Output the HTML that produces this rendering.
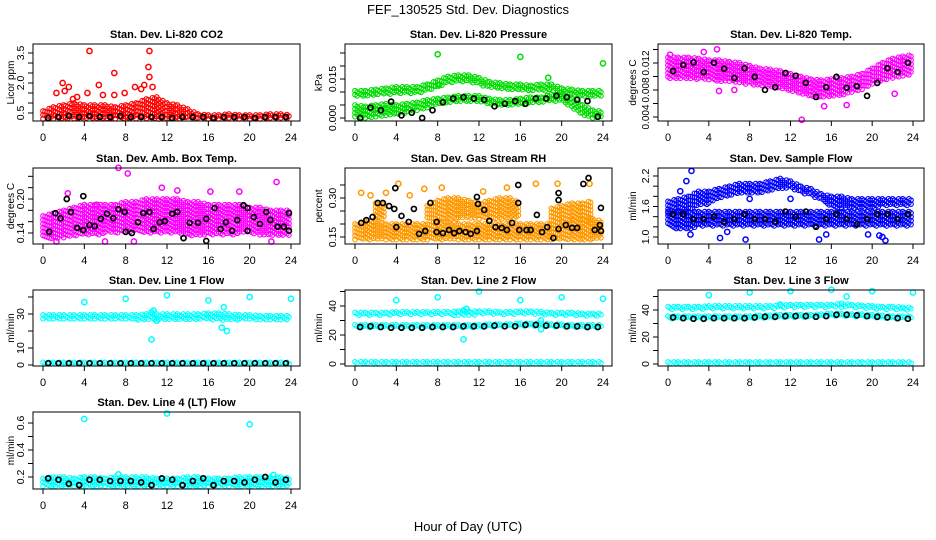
<!DOCTYPE html>
<html><head><meta charset="utf-8"><style>
html,body{margin:0;padding:0;background:#fff;}
svg{display:block;font-family:"Liberation Sans",sans-serif;}
</style></head><body>
<svg id="chart" width="936" height="540" viewBox="0 0 936 540">
<rect x="0" y="0" width="936" height="540" fill="#fff"/>
<text x="468" y="14" font-size="13" text-anchor="middle">FEF_130525  Std. Dev. Diagnostics</text>
<text x="468" y="531" font-size="13" text-anchor="middle">Hour of Day (UTC)</text>
</svg>
<script>
// ---------- data ----------
const hours = [0,1,2,3,4,5,6,7,8,9,10,11,12,13,14,15,16,17,18,19,20,21,22,23,24];
const blackHours = [0.5,1.5,2.5,3.5,4.5,5.5,6.5,7.5,8.5,9.5,10.5,11.5,12.5,13.5,14.5,15.5,16.5,17.5,18.5,19.5,20.5,21.5,22.5,23.5];

const co2Lo = [0.2,0.2,0.2,0.2,0.2,0.2,0.2,0.2,0.2,0.2,0.2,0.2,0.2,0.2,0.2,0.2,0.2,0.2,0.2,0.2,0.2,0.2,0.2,0.2,0.2];
const co2Hi = [0.6,0.8,0.9,1.0,0.9,0.9,0.9,0.8,0.9,1.0,1.2,1.3,1.0,0.9,0.7,0.45,0.4,0.4,0.45,0.4,0.4,0.4,0.45,0.45,0.4];
const co2Out = [[4.5,3.6],[10.3,3.6],[1.9,2.0],[6.9,2.5],[10.2,2.8],[10.3,2.3],[2.5,1.8],[8.9,1.8],[9.8,1.9],[1.3,1.5],[4.3,1.5],[5.4,1.9],[9.5,1.7],[10.6,1.8],[2.1,1.6],[7.9,1.5],[2.9,1.2],[5.8,1.4],[3.3,1.3],[6.9,1.4]];
const co2Black = [0.25,0.3,0.35,0.3,0.35,0.3,0.3,0.35,0.3,0.3,0.3,0.3,0.25,0.3,0.3,0.3,0.25,0.3,0.3,0.3,0.25,0.3,0.3,0.3];

const presALo = [0.0085,0.0085,0.009,0.009,0.0095,0.0095,0.0095,0.0105,0.012,0.0135,0.014,0.014,0.013,0.0115,0.0115,0.011,0.0105,0.0105,0.0105,0.0105,0.0095,0.0085,0.0085,0.0085,0.0085];
const presAHi = [0.0105,0.0105,0.011,0.0115,0.012,0.012,0.012,0.013,0.0145,0.016,0.0165,0.0165,0.0155,0.014,0.0135,0.013,0.013,0.0125,0.013,0.013,0.0115,0.011,0.0105,0.0105,0.0105];
const presBLo = [0.0,0.0,0.0005,0.001,0.001,0.002,0.003,0.004,0.005,0.006,0.0065,0.0065,0.006,0.0055,0.005,0.005,0.005,0.0055,0.006,0.0065,0.0065,0.004,0.001,0.0,0.0];
const presBHi = [0.005,0.0045,0.005,0.0055,0.005,0.0055,0.006,0.007,0.0075,0.008,0.0085,0.0085,0.0085,0.0075,0.007,0.007,0.0075,0.008,0.008,0.009,0.009,0.0075,0.005,0.003,0.0025];
const presOut = [[8,0.0245],[16,0.0235],[24,0.021],[8.1,0.0125],[18.7,0.0155]];
const presBlack = [0.0,0.004,0.003,0.0063,0.001,0.002,0.0,0.003,0.006,0.0075,0.008,0.0075,0.007,0.0045,0.0055,0.0065,0.0055,0.0075,0.0075,0.0085,0.008,0.007,0.0065,0.0005];

const tempLo = [0.0096,0.0096,0.0096,0.0096,0.00946,0.00922,0.00922,0.00898,0.00882,0.00865,0.00841,0.00817,0.00785,0.00737,0.00705,0.00697,0.00705,0.00721,0.00761,0.00801,0.00882,0.00946,0.00978,0.01002,0.01026];
const tempHi = [0.01283,0.01283,0.01283,0.01267,0.01243,0.01243,0.01219,0.01203,0.01162,0.01122,0.01106,0.01082,0.01042,0.01002,0.00962,0.00946,0.00962,0.00978,0.01002,0.01042,0.01122,0.01203,0.01267,0.01299,0.01323];
const tempOut = [[13.1,0.0036],[4.8,0.01403],[3.5,0.01363],[0.2,0.01323],[15.3,0.0056],[17.5,0.00577],[5,0.00785],[22.2,0.00745],[6.5,0.00801]];
const tempBlack = [0.01082,0.0117,0.0121,0.01066,0.01203,0.01115,0.00978,0.01122,0.00994,0.00801,0.00841,0.0105,0.0101,0.00906,0.00697,0.00841,0.00994,0.00833,0.00857,0.00713,0.00906,0.01122,0.01066,0.01203];

const ambLo = [0.13,0.13,0.13,0.135,0.135,0.135,0.14,0.14,0.14,0.14,0.14,0.14,0.14,0.14,0.135,0.135,0.135,0.135,0.135,0.14,0.14,0.135,0.135,0.135,0.135];
const ambHi = [0.17,0.175,0.18,0.185,0.19,0.19,0.19,0.19,0.195,0.195,0.2,0.2,0.2,0.2,0.195,0.195,0.19,0.19,0.19,0.19,0.185,0.185,0.18,0.18,0.18];
const ambOut = [[7.3,0.255],[8.2,0.245],[11.5,0.22],[13,0.215],[16.2,0.213],[19,0.213],[22.6,0.23],[2.4,0.21],[5.2,0.19],[6,0.125],[8.8,0.125],[22.1,0.125],[1.3,0.125]];
const ambBlackH = [0.6,1.2,1.7,2.3,2.7,3.3,3.9,3.9,4.5,5.0,5.6,6.2,6.8,7.3,7.9,8.0,8.6,9.2,9.7,10.3,10.7,11.3,11.8,12.5,13.0,13.6,14.2,15.0,15.8,15.8,16.6,17.2,17.7,18.3,18.8,19.4,19.8,19.8,20.4,21.0,21.6,22.0,22.7,23.3,23.8,23.8];
const ambBlackV = [0.142,0.175,0.166,0.200,0.177,0.149,0.205,0.145,0.154,0.152,0.165,0.174,0.166,0.182,0.177,0.142,0.140,0.159,0.175,0.177,0.147,0.159,0.161,0.174,0.177,0.131,0.158,0.158,0.126,0.165,0.184,0.147,0.159,0.144,0.163,0.189,0.184,0.144,0.168,0.156,0.177,0.163,0.151,0.151,0.144,0.175];

const rhLo = [0.14,0.14,0.14,0.14,0.14,0.14,0.14,0.14,0.14,0.14,0.14,0.14,0.14,0.14,0.14,0.14,0.14,0.14,0.14,0.14,0.14,0.14,0.14,0.14,0.14];
const rhHi = [0.2,0.21,0.21,0.2,0.2,0.2,0.2,0.2,0.21,0.21,0.2,0.2,0.2,0.2,0.2,0.2,0.2,0.2,0.2,0.2,0.21,0.22,0.22,0.22,0.21];
const rh2Lo = [null,null,0.22,0.22,null,null,null,0.22,0.22,0.22,0.22,0.22,0.22,0.22,0.22,0.22,0.22,null,null,0.21,0.21,0.21,0.21,0.21,null];
const rh2Hi = [null,null,0.28,0.28,null,null,null,0.27,0.29,0.3,0.3,0.29,0.28,0.29,0.3,0.3,0.28,null,null,0.26,0.27,0.28,0.28,0.29,null];
const rhOut = [[4.2,0.355],[17.5,0.355],[22.7,0.355],[19.6,0.355],[0.6,0.32],[8.4,0.34],[14.7,0.34],[6.7,0.335],[12.4,0.325],[1.5,0.31],[5.3,0.31],[3,0.32]];
const rhBlackH = [0.6,1.1,1.7,2.2,2.7,3.3,3.8,3.9,4.0,4.5,5.2,5.7,6.2,6.8,7.3,7.9,7.9,8.5,9.1,9.6,10.1,10.7,11.2,11.8,11.8,11.9,12.5,13.0,13.6,14.2,14.7,15.2,15.8,15.8,15.9,16.6,17.0,17.6,18.1,18.6,19.2,19.7,19.7,19.7,20.4,21.0,21.5,22.1,22.6,23.2,23.7,23.8,23.8];
const rhBlackV = [0.204,0.215,0.227,0.281,0.281,0.269,0.258,0.338,0.188,0.231,0.208,0.258,0.162,0.173,0.281,0.208,0.169,0.165,0.177,0.165,0.173,0.169,0.162,0.173,0.304,0.277,0.254,0.212,0.188,0.185,0.177,0.204,0.281,0.35,0.177,0.177,0.177,0.235,0.169,0.188,0.146,0.319,0.292,0.181,0.196,0.185,0.185,0.354,0.377,0.177,0.196,0.262,0.173];

const sfLo = [1.2,1.15,1.15,1.2,1.2,1.2,1.2,1.2,1.2,1.2,1.2,1.2,1.2,1.2,1.2,1.2,1.2,1.2,1.2,1.2,1.2,1.2,1.2,1.2,1.2];
const sfHi = [1.5,1.5,1.5,1.5,1.5,1.5,1.5,1.5,1.5,1.5,1.5,1.5,1.5,1.5,1.5,1.5,1.5,1.5,1.5,1.5,1.5,1.5,1.5,1.5,1.5];
const sf2Lo = [1.45,1.45,1.5,1.6,1.65,1.75,1.8,1.85,1.85,1.85,1.9,1.95,1.95,1.85,1.8,1.7,1.6,1.55,1.55,1.55,1.55,1.6,1.6,1.6,1.6];
const sf2Hi = [1.7,1.75,1.8,1.9,1.9,1.95,2.0,2.05,2.05,2.05,2.1,2.15,2.1,2.0,1.95,1.85,1.8,1.8,1.75,1.75,1.75,1.75,1.75,1.75,1.75];
const sfOut = [[2.3,2.3],[1.8,2.1],[7.6,0.95],[14.8,0.95],[21.3,0.93],[5.1,0.98],[2.2,1.05],[19.6,1.05],[15.5,1.05],[5.8,1.1],[20.7,1.03],[21,1.0],[1.2,1.9],[12,1.75],[8,1.75]];
const sfBlack = [1.45,1.45,1.35,1.35,1.4,1.3,1.35,1.45,1.35,1.35,1.3,1.5,1.4,1.5,1.2,1.35,1.45,1.35,1.25,1.35,1.45,1.45,1.35,1.45];

const l1Lo = [26.5,26.5,26.5,26.5,26.5,26.5,26.5,26.5,26.5,26.5,26.5,26.5,26.5,26.5,26.5,26.5,26.5,26,26,26.5,26.5,26,26,26,26];
const l1Hi = [29.5,29.5,29.5,29.5,29.5,29.5,29.5,29.5,29.5,29.5,30,30,30,30,30,30,30.5,30.5,30,29.5,29.5,29,29,29,29];
const l1BotLo = [0,0,0,0,0,0,0,0,0,0,0,0,0,0,0,0,0,0,0,0,0,0,0,0,0];
const l1BotHi = [1.5,1.5,1.5,1.5,1.5,1.5,1.5,1.5,1.5,1.5,1.5,1.5,1.5,1.5,1.5,1.5,1.5,1.5,1.5,1.5,1.5,1.5,1.5,1.5,1.5];
const l1Out = [[4,37],[8,39],[12,41],[16,38],[20,40],[24,39],[10.5,15],[10.5,31],[10.7,32],[17.5,34],[17.3,22],[17.8,20],[11,26]];
const l1Black = [1,1,1,1,1,1,1,1,1,1,1,1,1,1,1,1,1,1,1,1,1,1,1,1];

const l2Lo = [33,33,33,33,33.5,33.5,33.5,33.5,33.5,33.5,33.5,33.5,34,34,34,34,34,34,33.5,33.5,33,33,33,32.5,32.5];
const l2Hi = [35.5,35.5,35.5,35.5,36,36,36,36,36,36,36.5,36.5,36.5,36.5,36,36,36.5,36.5,36,35.5,35.5,35.5,35,35,35];
const l2MidLo = [25,25,25,25,25,25,25,25,25,25,25,25,25,25.5,25.5,25.5,26,26,26,25.5,25.5,25,25,25,25];
const l2MidHi = [27,27,27,27,27,27,27,27,27,27,27,27,27,27.5,27.5,27.5,28,28,28,27.5,27.5,27,27,27,27];
const l2Out = [[4,44],[8,46],[12,50],[16,44],[20,46],[24,45],[10.5,17],[10.5,37],[10.8,38],[18,24],[18,30]];
const l2Black = [25.5,26,25.5,25,25,25,25,25.5,25.5,25.5,26,26,26,26.5,26,26,27,27,26.5,26.5,26,26,25.5,25.5];

const l3Lo = [40,40,40,40,40.5,40.5,40.5,40.5,40.5,40.5,40.5,41,41.5,41.5,41.5,41.5,41.5,42,41.5,41,40.5,40,40,39.5,39.5];
const l3Hi = [42.5,42.5,42.5,42.5,43,43,43,43,43,43,43,43.5,44,44,44,44,44,45,44,43.5,43,42.5,42.5,42,42];
const l3MidLo = [33,33,33,33,33,33,33,33,33,33.5,33.5,34,34,34,34,34.5,35,35,34.5,34.5,34,33.5,33,33,33];
const l3MidHi = [35.5,35.5,35.5,35.5,35.5,35.5,35.5,35.5,35.5,36,36,36.5,36.5,36.5,36.5,37,37.5,37.5,37,37,36.5,36,35.5,35.5,35.5];
const l3Out = [[4,51],[8,53],[12,54],[16,55],[20,54],[24,53],[17.5,50],[11,44]];
const l3Black = [34.5,34,33.5,33.5,34,34,34,34,34.5,35,35,35.5,35.5,35.5,35,35.5,36.5,36.5,36,35.5,35,34.5,34,33.5];

const l4Lo = [0.13,0.13,0.13,0.13,0.13,0.13,0.13,0.13,0.13,0.13,0.13,0.13,0.13,0.13,0.13,0.13,0.13,0.13,0.13,0.13,0.13,0.13,0.13,0.13,0.13];
const l4Hi = [0.19,0.2,0.2,0.19,0.2,0.2,0.19,0.2,0.2,0.2,0.2,0.19,0.19,0.19,0.2,0.2,0.19,0.19,0.19,0.2,0.2,0.2,0.2,0.2,0.19];
const l4Out = [[4,0.63],[12,0.67],[20,0.59],[7.3,0.22],[22.3,0.215]];
const l4Black = [0.19,0.18,0.15,0.14,0.18,0.18,0.17,0.17,0.17,0.16,0.14,0.19,0.18,0.14,0.17,0.19,0.14,0.17,0.17,0.16,0.18,0.2,0.16,0.18];

// ---------- layout ----------
const NS = "http://www.w3.org/2000/svg";
const svg = document.getElementById("chart");
const COLS = [{bx0:33,bx1:300,p0:43,p24:291,ylabX:11},{bx0:345,bx1:612,p0:355,p24:603,ylabX:319},{bx0:658,bx1:924,p0:668,p24:913,ylabX:633}];
const ROWS = [{by0:44,by1:121},{by0:168,by1:244},{by0:290,by1:366},{by0:412,by1:489}];

function mk(tag, attrs, parent){
  const e = document.createElementNS(NS, tag);
  for (const k in attrs) e.setAttribute(k, attrs[k]);
  (parent||svg).appendChild(e);
  return e;
}

function drawPanel(cfg){
  const c = COLS[cfg.col], r = ROWS[cfg.row];
  const g = mk("g", {});
  
  
  const xs = h => c.p0 + (c.p24 - c.p0) * h / 24;
  const [v1,p1,v2,p2] = cfg.ymap;
  const ys = v => p1 + (v - v1) * (p2 - p1) / (v2 - v1);
  const bandG = mk("g", {fill:"none", stroke:cfg.color, "stroke-width":"1.1"}, g);
  
  
  cfg.bands.forEach(([lo, hi]) => {
    for (let i = 0; i < hours.length - 1; i++) {
      if (lo[i] == null || hi[i] == null || lo[i+1] == null || hi[i+1] == null) continue;
      let k = 0;
      for (let h = hours[i]; h < hours[i+1] - 1e-9; h += 0.2, k++) {
        const t = (h - hours[i]) / (hours[i+1] - hours[i]);
        const l = lo[i] + (lo[i+1] - lo[i]) * t, u = hi[i] + (hi[i+1] - hi[i]) * t;
        const yl = ys(l), yu = ys(u);
        const top = Math.min(yl, yu), bot = Math.max(yl, yu);
        for (let y = top + (k % 3) * 1.3; y <= bot + 0.01; y += 3.9) {
          const pt = mk("circle", {cx:xs(h).toFixed(1), cy:y.toFixed(1), r:"2.3"}, bandG);
          
          
        }
      }
    }
  });
  cfg.outliers.forEach(([h, v]) => {
    const pt = mk("circle", {cx:xs(h), cy:ys(v), r:"2.6", "stroke-width":"1.5"}, bandG);
    
    
  });
  const blk = mk("g", {fill:"none", stroke:"#000", "stroke-width":"1.7"}, g);
  
  
  cfg.blackH.forEach((h, i) => {
    const pt = mk("circle", {cx:xs(h), cy:ys(cfg.blackV[i]), r:"2.5"}, blk);
    
    
  });
  const box = mk("rect", {x:c.bx0, y:r.by0, width:c.bx1-c.bx0, height:r.by1-r.by0, fill:"none", stroke:"#000", "stroke-width":"1"}, g);
  
  
  [0,4,8,12,16,20,24].forEach(t => {
    const x = xs(t);
    mk("line", {x1:x, x2:x, y1:r.by1, y2:r.by1+5, stroke:"#000"}, g);
    const tl = mk("text", {x:x, y:r.by1+20, "font-size":"11", "text-anchor":"middle"}, g);
    tl.textContent = t;
    
    
  });
  cfg.yticks.forEach(t => {
    const y = ys(t);
    mk("line", {x1:c.bx0-5, x2:c.bx0, y1:y, y2:y, stroke:"#000"}, g);
  });
  const fs = cfg.yfs || 10.5;
  cfg.ylabels.forEach(t => {
    const y = ys(parseFloat(t));
    const tl = mk("text", {x:0, y:0, "font-size":fs, "text-anchor":"middle", transform:`translate(${c.bx0-9},${y}) rotate(-90)`}, g);
    tl.textContent = t;
    
    
  });
  const yl = mk("text", {x:0, y:0, "font-size":"10", "text-anchor":"middle", transform:`translate(${c.ylabX+3},${(r.by0+r.by1)/2}) rotate(-90)`}, g);
  yl.textContent = cfg.ylab;
  
  
  const tt = mk("text", {x:(c.bx0+c.bx1)/2, y:r.by0-6, "font-size":"11", "font-weight":"bold", "text-anchor":"middle"}, g);
  tt.textContent = cfg.title;
  
  
}

drawPanel({name:"co2-panel", col:0,row:0,title:"Stan. Dev. Li-820 CO2",ylab:"Licor ppm",color:"#ff0000",
  ymap:[0.5,113,3.5,53], yticks:[0.5,1,1.5,2,2.5,3,3.5], ylabels:["0.5","2.0","3.5"],
  bands:[[co2Lo,co2Hi]], outliers:co2Out, blackH:blackHours, blackV:co2Black});
drawPanel({name:"pressure-panel", col:1,row:0,title:"Stan. Dev. Li-820 Pressure",ylab:"kPa",color:"#00dd00",
  ymap:[0,118,0.015,79], yticks:[0,0.005,0.01,0.015,0.02,0.025], ylabels:["0.000","0.015"],
  bands:[[presALo,presAHi],[presBLo,presBHi]], outliers:presOut, blackH:blackHours, blackV:presBlack});
drawPanel({name:"temp-panel", col:2,row:0,title:"Stan. Dev. Li-820 Temp.",ylab:"degrees C",color:"#ff00ff",
  ymap:[0.004,117,0.012,63], yticks:[0.004,0.006,0.008,0.010,0.012,0.014], ylabels:["0.004","0.008","0.012"], yfs:10,
  bands:[[tempLo,tempHi]], outliers:tempOut, blackH:blackHours, blackV:tempBlack});
drawPanel({name:"amb-box-temp-panel", col:0,row:1,title:"Stan. Dev. Amb. Box Temp.",ylab:"degrees C",color:"#ff00ff",
  ymap:[0.14,233,0.20,199], yticks:[0.14,0.16,0.18,0.20,0.22,0.24], ylabels:["0.14","0.20"],
  bands:[[ambLo,ambHi]], outliers:ambOut, blackH:ambBlackH, blackV:ambBlackV});
drawPanel({name:"gas-rh-panel", col:1,row:1,title:"Stan. Dev. Gas Stream RH",ylab:"percent",color:"#ff9900",
  ymap:[0.15,237,0.30,198], yticks:[0.15,0.2,0.25,0.3,0.35], ylabels:["0.15","0.30"],
  bands:[[rhLo,rhHi],[rh2Lo,rh2Hi]], outliers:rhOut, blackH:rhBlackH, blackV:rhBlackV});
drawPanel({name:"sample-flow-panel", col:2,row:1,title:"Stan. Dev. Sample Flow",ylab:"ml/min",color:"#0000ff",
  ymap:[1.0,237,2.2,176], yticks:[1.0,1.2,1.4,1.6,1.8,2.0,2.2], ylabels:["1.0","1.6","2.2"],
  bands:[[sfLo,sfHi],[sf2Lo,sf2Hi]], outliers:sfOut, blackH:blackHours, blackV:sfBlack});
drawPanel({name:"line1-flow-panel", col:0,row:2,title:"Stan. Dev. Line 1 Flow",ylab:"ml/min",color:"#00ffff",
  ymap:[0,365,30,314], yticks:[0,10,20,30,40], ylabels:["0","10","30"],
  bands:[[l1Lo,l1Hi],[l1BotLo,l1BotHi]], outliers:l1Out, blackH:blackHours, blackV:l1Black});
drawPanel({name:"line2-flow-panel", col:1,row:2,title:"Stan. Dev. Line 2 Flow",ylab:"ml/min",color:"#00ffff",
  ymap:[0,364,40,306], yticks:[0,10,20,30,40,50], ylabels:["0","20","40"],
  bands:[[l2Lo,l2Hi],[l2MidLo,l2MidHi],[l1BotLo,l1BotHi]], outliers:l2Out, blackH:blackHours, blackV:l2Black});
drawPanel({name:"line3-flow-panel", col:2,row:2,title:"Stan. Dev. Line 3 Flow",ylab:"ml/min",color:"#00ffff",
  ymap:[0,364,40,310], yticks:[0,10,20,30,40,50], ylabels:["0","20","40"],
  bands:[[l3Lo,l3Hi],[l3MidLo,l3MidHi],[l1BotLo,l1BotHi]], outliers:l3Out, blackH:blackHours, blackV:l3Black});
drawPanel({name:"line4-flow-panel", col:0,row:3,title:"Stan. Dev. Line 4 (LT) Flow",ylab:"ml/min",color:"#00ffff",
  ymap:[0.2,477,0.6,423], yticks:[0.2,0.3,0.4,0.5,0.6], ylabels:["0.2","0.4","0.6"],
  bands:[[l4Lo,l4Hi]], outliers:l4Out, blackH:blackHours, blackV:l4Black});
</script>
</body></html>
